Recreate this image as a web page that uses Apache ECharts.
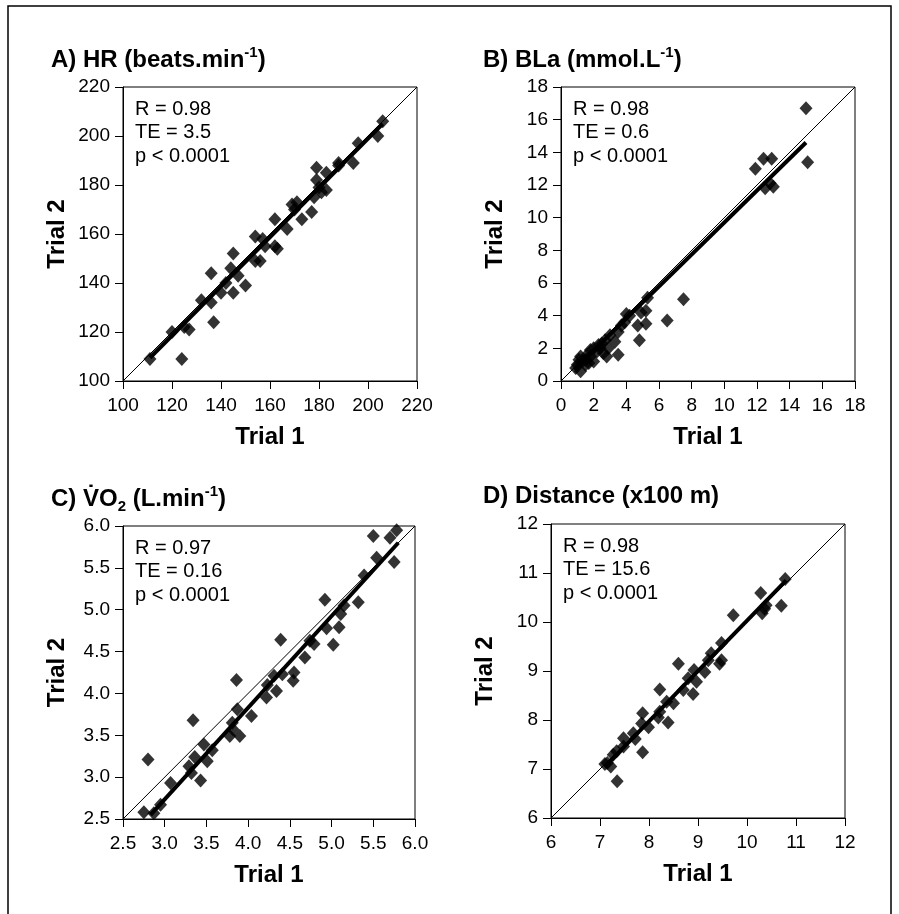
<!DOCTYPE html>
<html>
<head>
<meta charset="utf-8">
<script src="https://cdn.jsdelivr.net/npm/echarts@6/dist/echarts.min.js"></script>
<style>
html,body{margin:0;padding:0;background:#fff;}
#c{width:899px;height:914px;}
</style>
</head>
<body>
<div id="c"></div>
<script>
// ---------- DATA ----------
// Panel A: HR (beats.min-1)
const hrTrial1 = [111,124,120,125,127,137,132,136,136,140,142,145,144,145,147,150,154,156,154,157,158,162,163,162,167,169,170,171,173,177,178,180,179,179,181,183,183,188,188,194,196,204,206];
const hrTrial2 = [109,109,120,122,121,124,133,132,144,136,140,136,146,152,143,139,149,149,159,158,155,155,154,166,162,172,170,173,166,169,175,179,182,187,177,178,185,188,189,189,197,200,206];
const hrFit = [[111,109.5],[206,205]];

// Panel B: BLa (mmol.L-1)
const blaTrial1 = [15.0,15.1,11.9,12.4,12.9,12.5,13.0,12.8,7.5,6.5,5.3,5.2,4.9,4.7,5.2,4.8,4.2,4.0,
  1.0,0.9,1.2,1.3,1.5,1.6,1.8,1.8,2.0,2.0,1.2,2.2,2.3,2.5,2.7,2.6,2.9,3.0,3.5,3.3,3.5,3.7,3.9,1.5,2.8,1.1,1.7,2.4];
const blaTrial2 = [16.7,13.4,13.0,13.6,13.6,11.8,11.9,12.1,5.0,3.7,5.1,4.3,4.2,3.4,3.5,2.5,4.0,4.1,
  1.0,0.8,1.5,1.2,1.3,1.6,1.5,1.9,2.0,1.2,0.6,1.8,2.2,2.3,2.5,1.7,2.0,2.8,1.6,2.4,3.0,3.4,3.6,1.0,1.5,1.3,1.1,2.0];
const blaFit = [[0.8,0.7],[15,14.6]];

// Panel C: VO2 (L.min-1)
const vo2Trial1 = [2.75,2.87,2.80,2.95,3.07,3.29,3.32,3.43,3.36,3.47,3.51,3.57,3.34,3.78,3.82,3.81,3.87,3.90,3.86,4.04,4.22,4.23,4.31,4.34,4.41,4.39,4.54,4.55,4.68,4.74,4.79,4.94,4.92,5.02,5.09,5.11,5.15,5.32,5.39,5.50,5.54,5.70,5.75,5.78];
const vo2Trial2 = [2.58,2.57,3.21,2.67,2.93,3.13,3.05,2.96,3.24,3.39,3.19,3.32,3.68,3.49,3.57,3.65,3.81,3.49,4.16,3.73,3.95,4.10,4.21,4.03,4.23,4.64,4.15,4.25,4.43,4.63,4.59,4.78,5.12,4.58,4.79,4.95,5.05,5.09,5.41,5.88,5.62,5.86,5.57,5.95];
const vo2Fit = [[2.83,2.55],[5.8,5.8]];

// Panel D: Distance (x100 m)
const distTrial1 = [10.78,10.28,10.70,10.36,10.39,10.31,9.72,9.48,9.44,9.48,9.27,9.21,9.14,8.92,8.97,8.80,8.70,8.90,8.60,8.50,8.36,8.39,8.22,8.22,8.19,7.99,7.85,7.87,7.87,7.72,7.68,7.48,7.48,7.34,7.27,7.15,7.22,7.35,7.10];
const distTrial2 = [10.88,10.59,10.33,10.27,10.34,10.18,10.14,9.57,9.15,9.22,9.36,9.22,8.98,9.02,8.78,8.85,8.61,8.53,9.15,8.34,8.37,7.95,8.62,8.17,8.05,7.85,7.93,8.14,7.34,7.61,7.73,7.63,7.46,7.36,7.29,7.12,7.05,6.75,7.10];
const distFit = [[7.1,7.05],[10.8,10.85]];

// Axis ranges [min, max, interval]
const axisA = [100,220,20];
const axisB = [0,18,2];
const axisC = [2.5,6.0,0.5];
const axisD = [6,12,1];

// Statistics text
const statsA = ['R = 0.98','TE = 3.5','p < 0.0001'];
const statsB = ['R = 0.98','TE = 0.6','p < 0.0001'];
const statsC = ['R = 0.97','TE = 0.16','p < 0.0001'];
const statsD = ['R = 0.98','TE = 15.6','p < 0.0001'];

// ---------- CHART ----------
const FONT = '"Liberation Sans", Arial, sans-serif';
const chart = echarts.init(document.getElementById('c'), null, {renderer:'canvas'});

const grids = [
  {left:123, top:87, width:294, height:294},
  {left:561, top:87, width:294, height:294},
  {left:123, top:526, width:292, height:293},
  {left:551, top:524, width:294, height:294}
];
const axes = [axisA, axisB, axisC, axisD];
const decimals = [0,0,1,0];
const t1s = [hrTrial1, blaTrial1, vo2Trial1, distTrial1];
const t2s = [hrTrial2, blaTrial2, vo2Trial2, distTrial2];
const fits = [hrFit, blaFit, vo2Fit, distFit];
const stats = [statsA, statsB, statsC, statsD];

const xAxis = [], yAxis = [], series = [], graphic = [];
grids.forEach((g, i) => {
  const [mn, mx, iv] = axes[i];
  const common = {
    type:'value', gridIndex:i, min:mn, max:mx, interval:iv,
    axisLine:{show:true, onZero:false, lineStyle:{color:'#000', width:1}},
    axisTick:{show:true, inside:false, length:8, lineStyle:{color:'#000', width:1}},
    splitLine:{show:false},
    nameLocation:'middle',
    nameTextStyle:{color:'#000', fontFamily:FONT, fontSize:24, fontWeight:'bold'}
  };
  const lbl = m => ({show:true, color:'#000', fontFamily:FONT, fontSize:19, margin:m,
      formatter: v => v.toFixed(decimals[i])});
  xAxis.push(Object.assign({}, common, {name:'Trial 1', nameGap:44, axisLabel:lbl(15)}));
  yAxis.push(Object.assign({}, common, {name:'Trial 2', nameGap:54, nameRotate:90, axisLabel:lbl(13)}));
  // identity line
  series.push({type:'line', xAxisIndex:i, yAxisIndex:i, data:[[mn,mn],[mx,mx]],
    symbol:'none', lineStyle:{color:'#000', width:1}, silent:true, z:1});
  // regression line
  series.push({type:'line', xAxisIndex:i, yAxisIndex:i, data:fits[i],
    symbol:'none', lineStyle:{color:'#000', width:4}, silent:true, z:2});
  // points
  series.push({type:'scatter', xAxisIndex:i, yAxisIndex:i,
    data:t1s[i].map((v,k)=>[v, t2s[i][k]]),
    symbol:'diamond', symbolSize:[13,14], itemStyle:{color:'#000'}, z:3});
  // stats text
  stats[i].forEach((s, k) => {
    graphic.push({type:'text', left:g.left+12, top:g.top+12+k*23.5,
      style:{text:s, fontFamily:FONT, fontSize:20, fill:'#000'}});
  });
});

const grid = grids.map(g => Object.assign({show:true, borderColor:'#000', borderWidth:1, backgroundColor:'transparent'}, g));

const mainS = {fontFamily:FONT, fontSize:24, fontWeight:'bold', color:'#000', lineHeight:30, verticalAlign:'middle'};
const supS = {fontFamily:FONT, fontSize:15, fontWeight:'bold', color:'#000', lineHeight:17, verticalAlign:'top'};
const subS = {fontFamily:FONT, fontSize:15, fontWeight:'bold', color:'#000', lineHeight:15, verticalAlign:'bottom'};
const rich = {m:mainS, s:supS, b:subS};

const titles = [
  {left:46, top:40, text:'{m|A) HR (beats.min}{s|-1}{m|)}'},
  {left:478, top:40, text:'{m|B) BLa (mmol.L}{s|-1}{m|)}'},
  {left:46, top:479, text:'{m|C) V\u0307O}{b|2}{m| (L.min}{s|-1}{m|)}'},
  {left:478, top:476, text:'{m|D) Distance (x100 m)}'}
].map(t => ({left:t.left, top:t.top, text:t.text, textStyle:{rich:rich}}));

graphic.push({type:'rect', shape:{x:8, y:6, width:883, height:930},
  style:{fill:'none', stroke:'#000', lineWidth:1.5}, z:-1});

chart.setOption({
  backgroundColor:'#fff',
  animation:false,
  title:titles,
  grid:grid,
  xAxis:xAxis,
  yAxis:yAxis,
  series:series,
  graphic:graphic
});
</script>
</body>
</html>
